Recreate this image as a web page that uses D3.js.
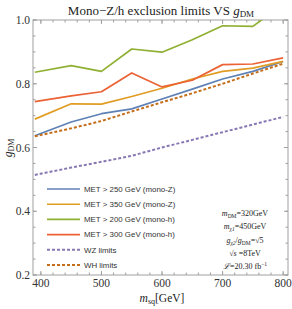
<!DOCTYPE html>
<html>
<head>
<meta charset="utf-8">
<script src="https://cdn.jsdelivr.net/npm/d3@7"></script>
<style>
body { margin: 0; background: #fff; }
svg text { font-family: "Liberation Serif", "DejaVu Serif", serif; }
</style>
</head>
<body>
<div id="chart"></div>
<script>
// masses [GeV]
var msq = [390, 450, 500, 550, 600, 650, 700, 750, 800];
var met250Z = [0.637, 0.680, 0.706, 0.721, 0.752, 0.783, 0.815, 0.839, 0.870];
var met350Z = [0.689, 0.737, 0.736, 0.760, 0.786, 0.815, 0.839, 0.849, 0.870];
var met200h = [0.836, 0.857, 0.839, 0.909, 0.899, 0.938, 0.982, 0.980, 1.050];
var met300h = [0.744, 0.762, 0.775, 0.834, 0.790, 0.811, 0.860, 0.862, 0.881];
var wzLimits = [0.514, 0.537, 0.555, 0.574, 0.600, 0.624, 0.648, 0.672, 0.696];
var whLimits = [0.635, 0.660, 0.683, 0.713, 0.742, 0.770, 0.800, 0.832, 0.863];

var seriesNames = ["MET > 250 GeV (mono-Z)", "MET > 350 GeV (mono-Z)", "MET > 200 GeV (mono-h)",
    "MET > 300 GeV (mono-h)", "WZ limits", "WH limits"];
var seriesValues = [met250Z, met350Z, met200h, met300h, wzLimits, whLimits];
var seriesColors = ["#5e81b5", "#e19c24", "#8fb032", "#eb6235", "#8778b3", "#c56e1a"];
var seriesDash = [null, null, null, null, "3,2", "3,2"];

var xTicks = [400, 500, 600, 700, 800];
var yTicks = [0.2, 0.4, 0.6, 0.8, 1.0];

var svg = d3.select("#chart").append("svg")
        .attr("width", 292)
        .attr("height", 309),
    margin = {top: 20, right: 4, bottom: 34, left: 33},
    width = 292 - margin.left - margin.right,
    height = 309 - margin.top - margin.bottom,
    g = svg.append("g").attr("transform", "translate(" + margin.left + "," + margin.top + ")");

var x = d3.scaleLinear().domain([387, 808]).range([0, width]);
var y = d3.scaleLinear().domain([0.2, 1.0]).range([height, 0]);

g.append("clipPath").attr("id", "clip")
    .append("rect").attr("width", width).attr("height", height);

// frame
g.append("rect")
    .attr("width", width)
    .attr("height", height)
    .attr("fill", "none")
    .attr("stroke", "#a0a0a0")
    .attr("stroke-width", 1);

// ticks on all four sides, pointing in
var xMinor = d3.range(400, 801, 20);
var yMinor = d3.range(0.2, 1.0001, 0.05);
var tickCol = "#a0a0a0";

function tickLines(vals, isMajor, axis) {
    var len = isMajor ? 4 : 2.5;
    vals.forEach(function(v) {
        if (axis == "x") {
            g.append("line").attr("x1", x(v)).attr("x2", x(v)).attr("y1", height).attr("y2", height - len)
                .attr("stroke", tickCol);
            g.append("line").attr("x1", x(v)).attr("x2", x(v)).attr("y1", 0).attr("y2", len)
                .attr("stroke", tickCol);
        } else {
            g.append("line").attr("y1", y(v)).attr("y2", y(v)).attr("x1", 0).attr("x2", len)
                .attr("stroke", tickCol);
            g.append("line").attr("y1", y(v)).attr("y2", y(v)).attr("x1", width).attr("x2", width - len)
                .attr("stroke", tickCol);
        }
    });
}
tickLines(xMinor, false, "x");
tickLines(xTicks, true, "x");
tickLines(yMinor, false, "y");
tickLines(yTicks, true, "y");

g.selectAll(".xlab").data(xTicks).enter().append("text")
    .attr("x", function(d) { return x(d); })
    .attr("y", height + 12)
    .attr("text-anchor", "middle")
    .attr("font-size", 11.5)
    .attr("fill", "#333")
    .text(function(d) { return d; });

g.selectAll(".ylab").data(yTicks).enter().append("text")
    .attr("x", -3)
    .attr("y", function(d) { return y(d) + 4; })
    .attr("text-anchor", "end")
    .attr("font-size", 11.5)
    .attr("fill", "#333")
    .text(function(d) { return d.toFixed(1); });

// lines
var line = d3.line()
    .x(function(d, i) { return x(msq[i]); })
    .y(function(d) { return y(d); });

var plot = g.append("g").attr("clip-path", "url(#clip)");
seriesValues.forEach(function(vals, i) {
    plot.append("path")
        .datum(vals)
        .attr("fill", "none")
        .attr("stroke", seriesColors[i])
        .attr("stroke-width", seriesDash[i] ? 2 : 1.7)
        .attr("stroke-dasharray", seriesDash[i])
        .attr("stroke-linejoin", "round")
        .attr("d", line);
});

// legend
var legend = g.append("g")
    .selectAll("g")
    .data(seriesNames)
    .enter().append("g")
    .attr("transform", function(d, i) {
        return "translate(14," + (169 + i * 15.2) + ")";
    });

legend.append("line")
    .attr("x1", 0).attr("x2", 33)
    .attr("stroke", function(d, i) { return seriesColors[i]; })
    .attr("stroke-width", function(d, i) { return seriesDash[i] ? 2 : 1.6; })
    .attr("stroke-dasharray", function(d, i) { return seriesDash[i]; });

legend.append("text")
    .attr("x", 37)
    .attr("y", 2.7)
    .attr("font-size", 7.9)
    .attr("fill", "#333")
    .style("font-family", "Liberation Sans, Arial, sans-serif")
    .text(function(d) { return d; });

// parameters box
var notes = g.append("g").attr("font-size", 8).attr("fill", "#222").attr("text-anchor", "middle");
var nx = 212;
var t1 = notes.append("text").attr("x", nx).attr("y", 196);
t1.append("tspan").attr("font-style", "italic").text("m");
t1.append("tspan").attr("font-size", 5.5).attr("dy", 1.5).text("DM");
t1.append("tspan").attr("dy", -1.5).text("=320GeV");
var t2 = notes.append("text").attr("x", nx).attr("y", 209);
t2.append("tspan").attr("font-style", "italic").text("m");
t2.append("tspan").attr("font-size", 5.5).attr("dy", 1.5).attr("font-style", "italic").text("χ1");
t2.append("tspan").attr("dy", -1.5).text("=450GeV");
var t3 = notes.append("text").attr("x", nx).attr("y", 223);
t3.append("tspan").attr("font-style", "italic").text("g");
t3.append("tspan").attr("font-size", 5.5).attr("dy", 1.5).attr("font-style", "italic").text("χ2");
t3.append("tspan").attr("dy", -1.5).text("/");
t3.append("tspan").attr("font-style", "italic").text("g");
t3.append("tspan").attr("font-size", 5.5).attr("dy", 1.5).text("DM");
t3.append("tspan").attr("dy", -1.5).text("=√5");
var t4 = notes.append("text").attr("x", nx).attr("y", 236);
t4.append("tspan").text("√");
t4.append("tspan").attr("font-style", "italic").text("s");
t4.append("tspan").text(" =8TeV");
var t5 = notes.append("text").attr("x", nx).attr("y", 249);
t5.append("tspan").attr("font-style", "italic").text("ℒ");
t5.append("tspan").text("=20.30 fb");
t5.append("tspan").attr("font-size", 5.5).attr("dy", -3).text("−1");

// title
var title = svg.append("text")
    .attr("x", 161)
    .attr("y", 15)
    .attr("text-anchor", "middle")
    .attr("font-size", 13)
    .attr("fill", "#222");
title.append("tspan").text("Mono−Z/h exclusion limits VS ");
title.append("tspan").attr("font-style", "italic").text("g");
title.append("tspan").attr("font-size", 9).attr("dy", 2).text("DM");

// axis labels
var xl = svg.append("text")
    .attr("x", 162)
    .attr("y", 302)
    .attr("text-anchor", "middle")
    .attr("font-size", 11.5)
    .attr("fill", "#222");
xl.append("tspan").attr("font-style", "italic").text("m");
xl.append("tspan").attr("font-size", 8).attr("dy", 2).text("sq");
xl.append("tspan").attr("dy", -2).text("[GeV]");

var yl = svg.append("text")
    .attr("transform", "translate(12,148) rotate(-90)")
    .attr("text-anchor", "middle")
    .attr("font-size", 11.5)
    .attr("fill", "#222");
yl.append("tspan").attr("font-style", "italic").text("g");
yl.append("tspan").attr("font-size", 8).attr("dy", 2).text("DM");
</script>
</body>
</html>
